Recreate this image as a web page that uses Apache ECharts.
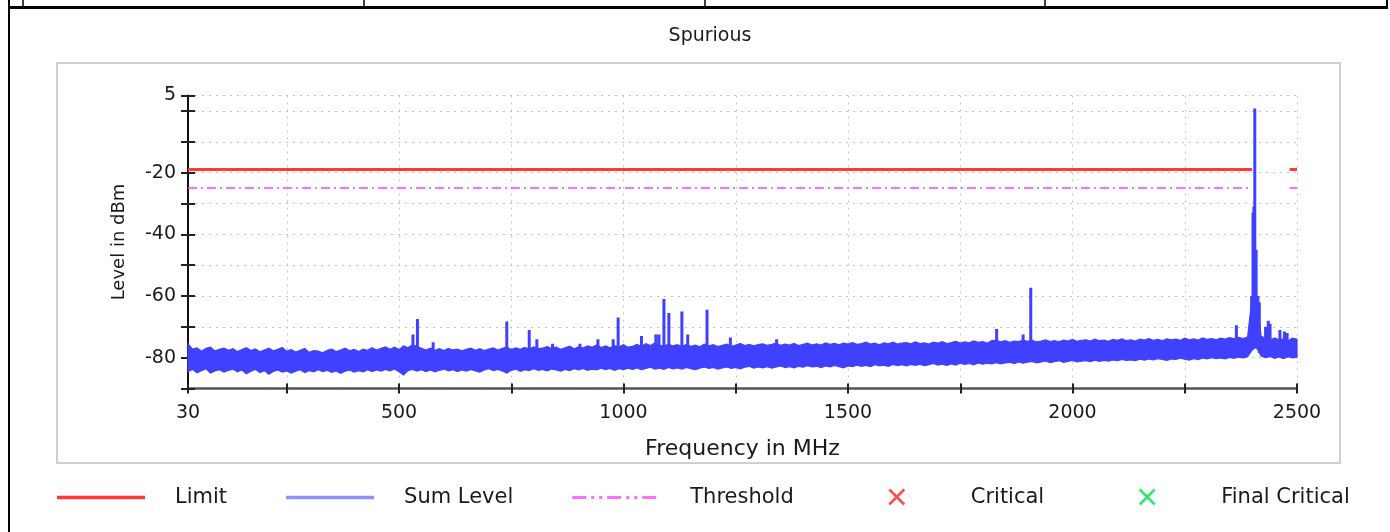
<!DOCTYPE html>
<html>
<head>
<meta charset="utf-8">
<script src="https://cdn.jsdelivr.net/npm/echarts@6.0.0/dist/echarts.min.js"></script>
<style>
  html, body { margin: 0; padding: 0; background: #fff; }
  #chart { width: 1390px; height: 532px; }
</style>
</head>
<body>
<div id="chart"></div>
<script>
// ---------------- data ----------------
const chartTitle = 'Spurious';
const xName = 'Frequency in MHz';
const yName = 'Level in dBm';

const xTickValues = [30, 250, 500, 750, 1000, 1250, 1500, 1750, 2000, 2250, 2500];
const xLabelValues = [30, 500, 1000, 1500, 2000, 2500];
const yLabelValues = [5, -20, -40, -60, -80];

// noise-floor band of the Sum Level trace (10 MHz bins): upper and lower envelope
const freq = [
  30,40,50,60,70,80,90,100,110,120,
  130,140,150,160,170,180,190,200,210,220,
  230,240,250,260,270,280,290,300,310,320,
  330,340,350,360,370,380,390,400,410,420,
  430,440,450,460,470,480,490,500,510,520,
  530,540,550,560,570,580,590,600,610,620,
  630,640,650,660,670,680,690,700,710,720,
  730,740,750,760,770,780,790,800,810,820,
  830,840,850,860,870,880,890,900,910,920,
  930,940,950,960,970,980,990,1000,1010,1020,
  1030,1040,1050,1060,1070,1080,1090,1100,1110,1120,
  1130,1140,1150,1160,1170,1180,1190,1200,1210,1220,
  1230,1240,1250,1260,1270,1280,1290,1300,1310,1320,
  1330,1340,1350,1360,1370,1380,1390,1400,1410,1420,
  1430,1440,1450,1460,1470,1480,1490,1500,1510,1520,
  1530,1540,1550,1560,1570,1580,1590,1600,1610,1620,
  1630,1640,1650,1660,1670,1680,1690,1700,1710,1720,
  1730,1740,1750,1760,1770,1780,1790,1800,1810,1820,
  1830,1840,1850,1860,1870,1880,1890,1900,1910,1920,
  1930,1940,1950,1960,1970,1980,1990,2000,2010,2020,
  2030,2040,2050,2060,2070,2080,2090,2100,2110,2120,
  2130,2140,2150,2160,2170,2180,2190,2200,2210,2220,
  2230,2240,2250,2260,2270,2280,2290,2300,2310,2320,
  2330,2340,2350,2360,2370,2380,2390,2400,2410,2420,
  2430,2440,2450,2460,2470,2480,2490,2500
];

const bandHigh = [
  -75.5,-77.2,-76.8,-77.9,-77.0,-76.6,-77.8,-77.3,-76.9,-77.6,
  -77.1,-78.0,-77.4,-76.8,-77.7,-77.2,-78.1,-77.5,-76.9,-77.8,
  -77.3,-76.7,-77.9,-77.4,-78.2,-77.6,-77.0,-78.3,-77.7,-77.9,
  -78.4,-77.6,-77.2,-78.0,-77.5,-76.9,-77.8,-77.3,-78.0,-77.2,
  -77.6,-76.8,-77.5,-77.0,-76.5,-77.3,-76.6,-77.4,-76.2,-76.8,
  -75.8,-76.4,-77.0,-77.5,-76.9,-77.6,-77.1,-77.7,-77.0,-77.5,
  -77.2,-77.8,-77.3,-76.9,-77.6,-77.1,-77.7,-77.2,-76.8,-77.5,
  -77.0,-76.6,-77.4,-76.8,-77.3,-76.7,-77.2,-76.5,-77.1,-76.9,
  -76.4,-77.0,-76.6,-77.3,-76.8,-76.3,-77.1,-76.5,-76.9,-76.2,
  -76.6,-75.9,-76.7,-76.2,-76.8,-76.1,-76.5,-75.8,-76.6,-76.3,
  -75.7,-76.4,-75.5,-76.1,-75.2,-75.9,-76.3,-75.6,-76.2,-75.8,
  -76.4,-75.7,-76.3,-75.9,-76.5,-75.6,-76.2,-75.8,-76.4,-76.0,
  -75.6,-76.3,-75.9,-75.4,-76.1,-75.7,-76.2,-75.8,-75.5,-76.0,
  -75.7,-75.3,-76.0,-75.6,-75.9,-75.4,-76.1,-75.7,-75.3,-75.9,
  -75.5,-75.9,-75.2,-75.7,-75.4,-75.8,-75.3,-75.6,-75.1,-75.7,
  -75.4,-75.0,-75.6,-75.3,-75.8,-75.2,-75.5,-75.0,-75.6,-75.3,
  -75.1,-75.5,-74.9,-75.4,-75.2,-75.6,-75.0,-75.3,-74.8,-75.4,
  -75.1,-74.7,-75.3,-74.9,-75.2,-74.6,-75.0,-74.8,-75.3,-74.5,
  -74.4,-74.9,-74.5,-75.0,-74.6,-74.8,-74.3,-74.7,-74.4,-74.9,
  -74.6,-74.2,-74.8,-74.5,-74.9,-74.3,-74.6,-74.1,-74.7,-74.4,
  -74.2,-74.6,-74.0,-74.5,-74.3,-74.7,-74.1,-74.4,-73.9,-74.5,
  -74.2,-74.6,-74.0,-74.3,-73.8,-74.4,-74.1,-74.5,-73.9,-74.2,
  -74.0,-74.4,-73.7,-74.2,-73.9,-74.3,-73.6,-74.1,-73.8,-74.2,
  -73.7,-74.0,-73.5,-73.9,-73.4,-73.8,-73.3,-60.5,-60.0,-73.0,
  -73.8,-74.4,-73.6,-74.2,-73.9,-74.5,-73.7,-74.0
];

const bandLow = [
  -84.5,-83.8,-84.9,-84.2,-83.6,-85.0,-84.3,-83.9,-84.7,-84.1,
  -83.7,-84.6,-84.0,-85.2,-84.4,-83.8,-84.8,-84.2,-85.4,-84.5,
  -84.0,-84.7,-84.3,-85.0,-84.4,-83.9,-84.8,-84.2,-84.6,-83.9,
  -84.5,-84.1,-84.8,-84.3,-85.1,-84.4,-84.0,-84.7,-84.2,-84.6,
  -83.9,-84.5,-84.0,-84.4,-83.8,-84.3,-83.7,-84.6,-85.6,-84.2,
  -83.8,-84.4,-83.9,-84.5,-84.0,-84.6,-84.1,-83.7,-84.3,-83.9,
  -84.5,-84.0,-84.4,-83.8,-84.3,-84.7,-84.0,-83.6,-84.2,-83.8,
  -84.3,-85.0,-84.1,-83.7,-84.4,-83.9,-84.2,-83.6,-84.1,-83.8,
  -84.3,-83.7,-84.0,-84.4,-83.8,-84.2,-83.6,-84.0,-83.5,-84.1,
  -83.7,-84.0,-83.4,-83.9,-83.5,-84.1,-83.6,-83.9,-83.4,-83.8,
  -83.3,-83.9,-83.5,-83.1,-83.7,-83.4,-83.8,-83.2,-83.6,-83.3,
  -83.7,-83.2,-83.6,-83.9,-83.4,-83.0,-83.5,-83.2,-83.7,-83.3,
  -83.0,-83.5,-83.2,-83.6,-83.1,-82.8,-83.4,-83.0,-83.3,-82.9,
  -83.4,-83.0,-82.7,-83.2,-82.9,-83.3,-82.8,-83.1,-82.6,-83.0,
  -82.8,-83.2,-82.7,-83.0,-82.5,-82.9,-83.3,-82.7,-82.9,-82.4,
  -82.8,-82.5,-82.9,-82.3,-82.7,-82.4,-82.8,-82.2,-82.6,-82.3,
  -82.7,-82.2,-82.5,-82.1,-82.6,-82.3,-81.9,-82.4,-82.1,-82.5,
  -82.0,-82.4,-81.8,-82.2,-81.9,-82.3,-81.7,-82.1,-81.8,-82.0,
  -81.6,-82.0,-81.7,-81.5,-81.9,-81.4,-81.8,-81.5,-81.2,-81.7,
  -81.4,-81.1,-81.6,-81.3,-81.0,-81.5,-81.2,-80.9,-81.4,-81.1,
  -81.0,-81.3,-80.8,-81.2,-80.9,-81.1,-80.7,-81.0,-80.6,-80.9,
  -80.7,-81.0,-80.5,-80.8,-80.4,-80.7,-80.3,-80.6,-80.9,-80.4,
  -80.6,-80.2,-80.5,-80.8,-80.3,-80.6,-80.1,-80.4,-80.0,-80.3,
  -80.1,-80.4,-79.9,-80.2,-79.8,-80.1,-79.7,-77.5,-76.5,-79.5,
  -80.0,-79.6,-80.2,-79.8,-80.3,-79.7,-80.1,-79.9
];

// discrete spurs of the Sum Level trace
const spurFreq  = [531, 541, 576, 740, 790, 807, 842, 903, 943, 977, 988, 1040, 1072, 1079, 1090, 1101, 1130, 1143, 1186, 1238, 1341, 1831, 1890, 1907, 2365, 2399, 2402, 2404, 2406, 2409, 2413, 2416, 2430, 2436, 2440, 2462, 2472, 2478];
const spurLevel = [-72.5, -67.5, -75, -68.3, -71, -74, -75.5, -75.5, -74, -74, -67, -73, -72.5, -72.5, -61, -65.5, -65, -72.5, -64.5, -73.5, -74, -70.7, -72.5, -57.3, -69.5, -60, -33, -31, 0.8, -45, -60, -62, -70, -68, -69, -71, -71.5, -72];
const spurFloor = [-79.5, -79.5, -79.5, -79.5, -79.5, -79.5, -79.5, -79.5, -79.5, -79.5, -79.5, -79.5, -79.5, -79.5, -79.5, -79.5, -79.5, -79.5, -79.5, -79.5, -79.5, -79.5, -79.5, -79.5, -79.5, -77.5, -77, -77, -76.8, -76.6, -77.5, -78.5, -79.5, -79.5, -79.5, -79.5, -79.5, -79.5];

// limit & threshold (excluded band 2400 - 2483.5 MHz)
const limitSegments = [[30, 2400], [2483.5, 2500]];
const limitLevel = -19;
const thresholdLevel = -25;

const criticalPoints = [];
const finalCriticalPoints = [];

// ---------------- build ----------------
const FONT = 'DejaVu Sans';
const TXT = '#1a1a1a';
const BLUE = '#4040ff';

const spurData = [];
spurFreq.forEach((f, i) => { spurData.push([f, spurFloor[i]], [f, spurLevel[i]], [f, null]); });

function levelLine(level) {
  const d = [];
  limitSegments.forEach((s, i) => {
    if (i > 0) d.push([(limitSegments[i - 1][1] + s[0]) / 2, null]);
    d.push([s[0], level], [s[1], level]);
  });
  return d;
}

// band polygon drawn through the cartesian scales
function renderBand(params, api) {
  const pts = [];
  for (let i = 0; i < freq.length; i++) pts.push(api.coord([freq[i], bandHigh[i]]));
  for (let i = freq.length - 1; i >= 0; i--) pts.push(api.coord([freq[i], bandLow[i]]));
  return {
    type: 'polygon',
    shape: { points: pts },
    style: { fill: BLUE, stroke: BLUE, lineWidth: 1.2, lineJoin: 'miter' }
  };
}

// legend icons (box 113 x 20, visible part in the left 88 px)
const BOX = 'M0,0M113,20';
const ICON_LINE = 'path://' + BOX + 'M0,8.2L88,8.2L88,11.8L0,11.8Z';
let dd = '';
[[0,14],[19,22],[27,30],[35,49],[54,57],[62,65],[70,84]].forEach(s => {
  dd += 'M' + s[0] + ',8.5L' + s[1] + ',8.5L' + s[1] + ',11.5L' + s[0] + ',11.5Z';
});
const ICON_DASHDOT = 'path://' + BOX + dd;
const ICON_X = 'path://' + BOX +
  'M35.6,2.9L50.6,17.9L52.4,16.1L37.4,1.1Z' +
  'M50.6,1.1L35.6,16.1L37.4,17.9L52.4,2.9Z';

const splitStyle = { show: true, lineStyle: { color: '#c2c2c2', width: 1, type: [2, 5] } };

const option = {
  animation: false,
  backgroundColor: '#ffffff',
  title: {
    text: chartTitle, left: 705, top: 22, textAlign: 'center',
    textStyle: { fontFamily: FONT, fontSize: 19, fontWeight: 'normal', color: TXT }
  },
  grid: { left: 188, right: 93, top: 95.5, bottom: 143.5 },
  legend: {
    left: 57, top: 487, padding: 0, orient: 'horizontal',
    itemWidth: 113, itemHeight: 20, itemGap: 59,
    itemStyle: { borderWidth: 0 },
    textStyle: { fontFamily: FONT, fontSize: 21, color: TXT },
    data: [
      { name: 'Limit', icon: ICON_LINE, itemStyle: { color: '#ff3838' } },
      { name: 'Sum Level', icon: ICON_LINE, itemStyle: { color: '#9090ff' } },
      { name: 'Threshold', icon: ICON_DASHDOT, itemStyle: { color: '#ff70ff' } },
      { name: 'Critical', icon: ICON_X, itemStyle: { color: '#ff2020' } },
      { name: 'Final Critical', icon: ICON_X, itemStyle: { color: '#00e050' } }
    ]
  },
  xAxis: [
    {
      type: 'value', min: 30, max: 2500, position: 'bottom',
      name: xName, nameLocation: 'middle', nameGap: 50,
      nameTextStyle: { fontFamily: FONT, fontSize: 22, color: TXT },
      axisLine: { show: true, onZero: false, lineStyle: { color: '#555', width: 2.5 } },
      axisTick: { show: true, length: 5, customValues: xTickValues, lineStyle: { color: '#222', width: 2 } },
      axisLabel: { customValues: xLabelValues, margin: 15, fontFamily: FONT, fontSize: 19, color: TXT,
        formatter: v => String(v) },
      splitLine: splitStyle
    },
    {
      type: 'value', min: 30, max: 2500, position: 'bottom',
      axisLine: { show: false, onZero: false },
      axisTick: { show: true, inside: true, length: 5, customValues: xTickValues, lineStyle: { color: '#222', width: 2 } },
      axisLabel: { show: false },
      splitLine: { show: false }
    }
  ],
  yAxis: [
    {
      type: 'value', min: -90, max: 5, interval: 10, position: 'left',
      name: yName, nameLocation: 'middle', nameGap: 60,
      nameTextStyle: { fontFamily: FONT, fontSize: 18, color: TXT },
      axisLine: { show: true, onZero: false, lineStyle: { color: '#111', width: 2 } },
      axisTick: { show: true, length: 7, lineStyle: { color: '#222', width: 2 } },
      axisLabel: {
        margin: 12, fontFamily: FONT, fontSize: 19, color: TXT,
        formatter: v => (yLabelValues.indexOf(v) >= 0 ? String(v) : '')
      },
      splitLine: splitStyle
    },
    {
      type: 'value', min: -90, max: 5, interval: 10, position: 'left',
      axisLine: { show: false, onZero: false },
      axisTick: { show: true, inside: true, length: 7, lineStyle: { color: '#222', width: 2 } },
      axisLabel: { show: false },
      splitLine: { show: false }
    }
  ],
  series: [
    {
      name: 'Sum Level', type: 'custom', coordinateSystem: 'cartesian2d',
      data: [[freq[0], bandLow[0]]], renderItem: renderBand, silent: true,
      itemStyle: { color: BLUE }, z: 2
    },
    {
      name: 'Sum Level', type: 'line', data: spurData, symbol: 'none', connectNulls: false,
      lineStyle: { width: 3, color: BLUE }, itemStyle: { color: BLUE }, z: 3
    },
    {
      name: 'Threshold', type: 'line', data: levelLine(thresholdLevel), symbol: 'none', connectNulls: false,
      lineStyle: { width: 1.6, color: '#ff40ff', type: [9, 4, 2, 4] }, itemStyle: { color: '#ff40ff' }, z: 4
    },
    {
      name: 'Limit', type: 'line', data: levelLine(limitLevel), symbol: 'none', connectNulls: false,
      lineStyle: { width: 3, color: '#ff3838' }, itemStyle: { color: '#ff3838' }, z: 4
    },
    { name: 'Critical', type: 'scatter', data: criticalPoints, itemStyle: { color: '#ff2020' } },
    { name: 'Final Critical', type: 'scatter', data: finalCriticalPoints, itemStyle: { color: '#00e050' } }
  ],
  graphic: [
    { type: 'rect', silent: true, z: -10, shape: { x: 57, y: 63, width: 1283, height: 400 },
      style: { fill: 'none', stroke: '#cfcfcf', lineWidth: 2 } },
    { type: 'line', silent: true, shape: { x1: 9, y1: 0, x2: 9, y2: 532 }, style: { stroke: '#000', lineWidth: 2 } },
    { type: 'line', silent: true, shape: { x1: 8, y1: 7.5, x2: 1388, y2: 7.5 }, style: { stroke: '#000', lineWidth: 3 } },
    { type: 'line', silent: true, shape: { x1: 23, y1: 0, x2: 23, y2: 7 }, style: { stroke: '#000', lineWidth: 1.5 } },
    { type: 'line', silent: true, shape: { x1: 364, y1: 0, x2: 364, y2: 7 }, style: { stroke: '#000', lineWidth: 1.5 } },
    { type: 'line', silent: true, shape: { x1: 705, y1: 0, x2: 705, y2: 7 }, style: { stroke: '#000', lineWidth: 1.5 } },
    { type: 'line', silent: true, shape: { x1: 1045, y1: 0, x2: 1045, y2: 7 }, style: { stroke: '#000', lineWidth: 1.5 } },
    { type: 'line', silent: true, shape: { x1: 1387, y1: 0, x2: 1387, y2: 9 }, style: { stroke: '#000', lineWidth: 2 } }
  ]
};

const chart = echarts.init(document.getElementById('chart'), null, { renderer: 'canvas' });
chart.setOption(option);
</script>
</body>
</html>
